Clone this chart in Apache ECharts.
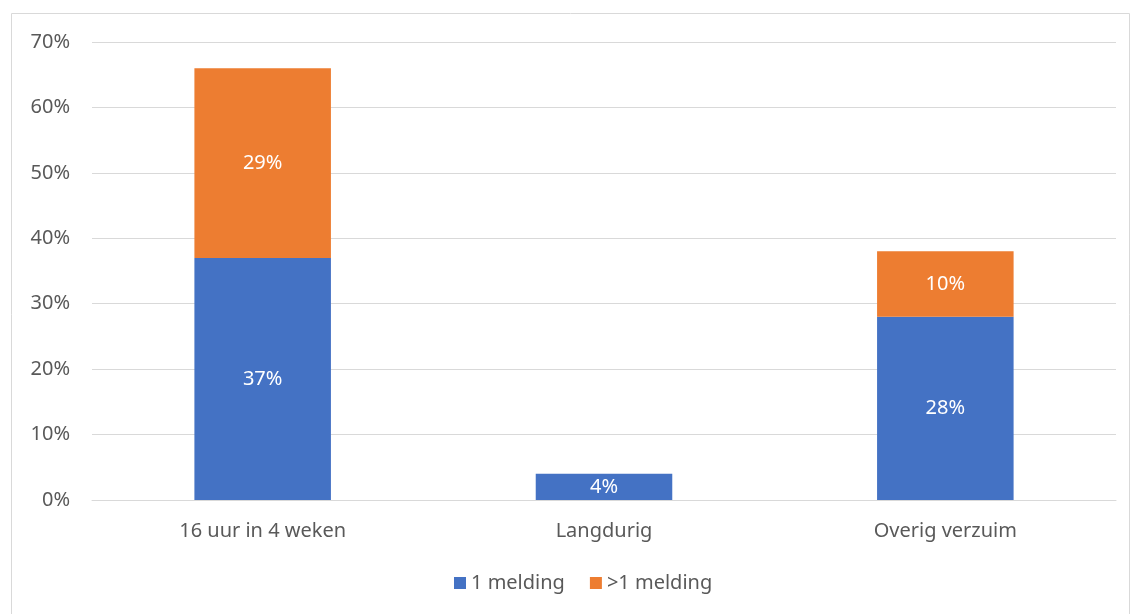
<!DOCTYPE html>
<html><head><meta charset="utf-8">
<script src="https://cdn.jsdelivr.net/npm/echarts@6/dist/echarts.min.js"></script>
<style>html,body{margin:0;padding:0;background:#fff}#c{width:1131px;height:614px}</style>
</head><body><div id="c"></div>
<script>
const categories = ['16 uur in 4 weken', 'Langdurig', 'Overig verzuim'];
const oneMelding = [37, 4, 28];
const moreMelding = [29, null, 10];
const seriesNames = ['1 melding', '>1 melding'];
const yTicks = [0, 10, 20, 30, 40, 50, 60, 70];

const font = 'Noto Sans';
const fs = 20;
const chart = echarts.init(document.getElementById('c'), null, {renderer: 'canvas'});
const lbl = {show: true, position: 'inside', color: '#fff', fontSize: fs, fontFamily: font,
  formatter: p => p.value == null ? '' : p.value + '%'};
chart.setOption({
  animation: false,
  graphic: [{type: 'rect', shape: {x: 11.5, y: 13.5, width: 1118, height: 640},
    style: {fill: 'none', stroke: '#d9d9d9', lineWidth: 1}, silent: true}],
  grid: {left: 92, right: 15, top: 42, bottom: 114, containLabel: false},
  legend: {bottom: 16, left: 449, itemWidth: 12, itemHeight: 12, itemGap: 25,
    icon: 'rect', textStyle: {color: '#595959', fontSize: fs, fontFamily: font}, data: seriesNames},
  xAxis: {type: 'category', data: categories,
    axisLine: {show: true, lineStyle: {color: '#d9d9d9', width: 1}},
    axisTick: {show: false},
    axisLabel: {color: '#595959', fontSize: fs, fontFamily: font, margin: 21}},
  yAxis: {type: 'value', min: yTicks[0], max: yTicks[yTicks.length - 1], interval: 10,
    axisLine: {show: false}, axisTick: {show: false},
    splitLine: {lineStyle: {color: '#d9d9d9', width: 1}},
    axisLabel: {color: '#595959', fontSize: fs, fontFamily: font, margin: 22, formatter: v => v + '%'}},
  series: [
    {name: seriesNames[0], type: 'bar', stack: 's', data: oneMelding, barWidth: '40%',
      itemStyle: {color: '#4472c4'}, label: lbl},
    {name: seriesNames[1], type: 'bar', stack: 's', data: moreMelding, barWidth: '40%',
      itemStyle: {color: '#ed7d31'}, label: lbl}
  ]
});
</script></body></html>
